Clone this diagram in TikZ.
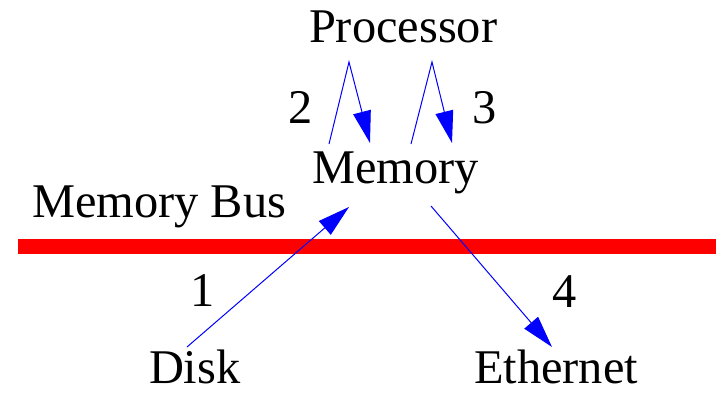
\documentclass[tikz,border=0pt]{standalone}
\usepackage{fontspec}
\setmainfont{LiberationSerif}[Extension=.ttf, UprightFont=*-Regular, BoldFont=*-Bold, ItalicFont=*-Italic, BoldItalicFont=*-BoldItalic]
\usetikzlibrary{arrows.meta}
\tikzset{
  lbl/.style={anchor=base west, inner sep=0pt, outer sep=0pt, font=\rmfamily\fontsize{48.4}{58}\selectfont},
  flow/.style={draw=blue, line width=1pt, -{Triangle[length=32pt,width=18pt]}},
  bus/.style={draw=red, line width=14.5pt}
}
\begin{document}
\begin{tikzpicture}[x=1pt,y=-1pt]
\useasboundingbox (0,0) rectangle (724,393);
% memory bus
\coordinate (busL) at (18,246.5);
\coordinate (busR) at (716,246.5);
\draw[bus] (busL) -- (busR);
% labels
\node[lbl] (proc) at (309,43) {Processor};
\node[lbl] (mem) at (312,184) {Memory};
\node[lbl] (bus) at (32,218) {Memory Bus};
\node[lbl] (disk) at (149,383) {Disk};
\node[lbl] (eth) at (474,383) {Ethernet};
\node[lbl] (n1) at (190,307) {1};
\node[lbl] (n2) at (288,124) {2};
\node[lbl] (n3) at (472,124) {3};
\node[lbl] (n4) at (552,308) {4};
% connector end points
\coordinate (a1) at (187,347);
\coordinate (b1) at (349,207);
\coordinate (a2) at (329,144);
\coordinate (p2) at (349,62);
\coordinate (b2) at (370,143);
\coordinate (a3) at (411,144);
\coordinate (p3) at (432,62);
\coordinate (b3) at (452,143);
\coordinate (a4) at (431,206);
\coordinate (b4) at (552,347);
% data movements
\draw[flow] (a1) -- (b1);
\draw[flow] (a2) -- (p2) -- (b2);
\draw[flow] (a3) -- (p3) -- (b3);
\draw[flow] (a4) -- (b4);
\end{tikzpicture}
\end{document}
